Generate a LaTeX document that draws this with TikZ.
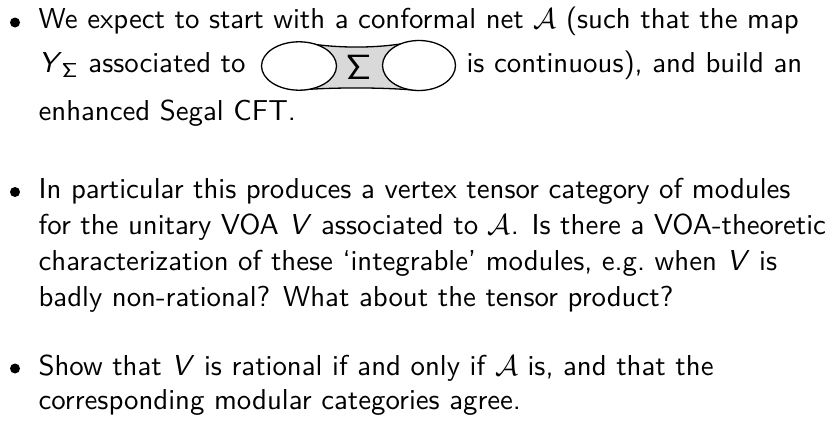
\documentclass[tikz,border=0pt]{standalone}
\renewcommand\familydefault{\sfdefault}
\begin{document}
\begin{tikzpicture}[x=1pt,y=-1pt,
  txt/.style={anchor=base west,inner sep=0pt,font=\fontsize{10}{12}\selectfont,scale=2.88},
  bul/.style={circle,fill=black,inner sep=0pt,minimum size=10pt},
  holeline/.style={line width=1.3pt},
]
\useasboundingbox (0,0) rectangle (827,423);
% paragraph 1
\node[bul] (b1) at (15,22.5) {};
\node[txt] (p1a) at (38,28.3) {We expect to start with a conformal net $\mathcal{A}$ (such that the map};
\node[txt] (p1b) at (38,72.7) {\textit{Y}$_{\mathsf{\Sigma}}$ associated to};
\node[txt] (p1c) at (466,72.7) {is continuous), and build an};
\node[txt] (p1d) at (38,120.7) {enhanced Segal CFT.};
% surface Sigma
\fill[black!15] (299,41.8) .. controls (335,49) and (383,49) .. (419,40.5)
   -- (419,90.5) .. controls (383,87.2) and (335,87.2) .. (299,90) -- cycle;
\draw[holeline] (299,41.8) .. controls (335,49) and (383,49) .. (419,40.5);
\draw[holeline] (299,90) .. controls (335,87.2) and (383,87.2) .. (419,90.5);
\draw[holeline,fill=white] (299,66) ellipse [x radius=37.5,y radius=24.2];
\draw[holeline,fill=white] (419,65.5) ellipse [x radius=36.5,y radius=25];
\node[inner sep=0pt,font=\fontsize{10}{12}\selectfont,scale=3.5] (sig) at (358.5,67) {$\mathsf{\Sigma}$};
% paragraph 2
\node[bul] (b2) at (15,192) {};
\node[txt] (p2a) at (38,198.3) {In particular this produces a vertex tensor category of modules};
\node[txt] (p2b) at (38,234) {for the unitary VOA \textit{V} associated to $\mathcal{A}$. Is there a VOA-theoretic};
\node[txt] (p2c) at (38,270) {characterization of these `integrable' modules, e.g.\ when \textit{V} is};
\node[txt] (p2d) at (38,306.5) {badly non-rational? What about the tensor product?};
% paragraph 3
\node[bul] (b3) at (15,368.5) {};
\node[txt] (p3a) at (38,375) {Show that \textit{V} is rational if and only if $\mathcal{A}$ is, and that the};
\node[txt] (p3b) at (38,409) {corresponding modular categories agree.};
\end{tikzpicture}
\end{document}
